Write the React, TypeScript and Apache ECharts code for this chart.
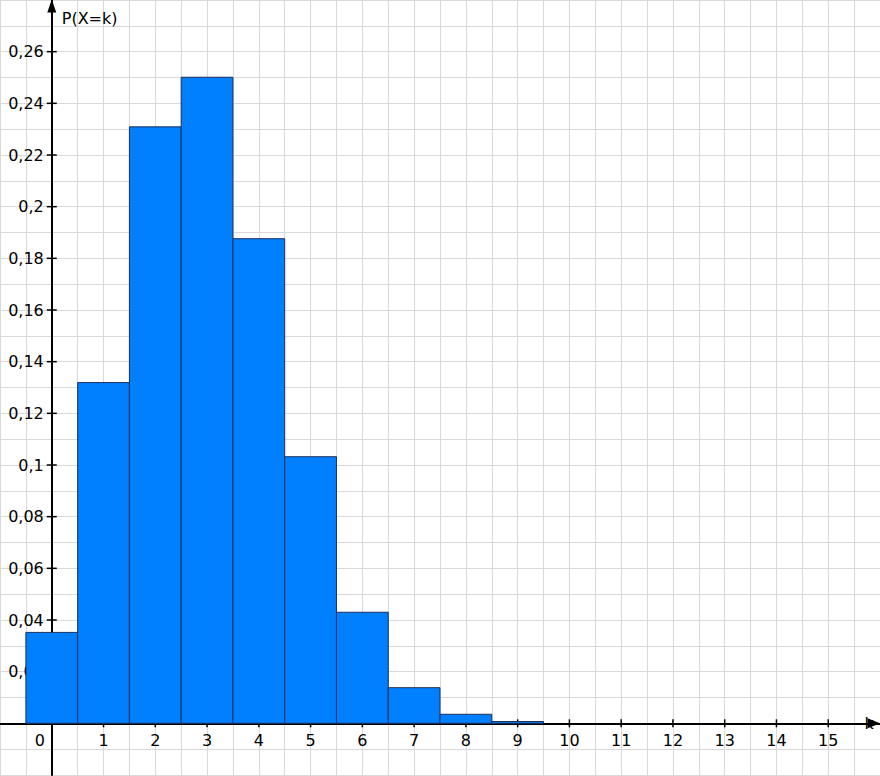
import React, { useEffect, useRef } from "react";
import * as echarts from "echarts";

const kValues = [0, 1, 2, 3, 4, 5, 6, 7, 8, 9];
const probabilities = [0.0352, 0.1319, 0.2309, 0.2501, 0.1876, 0.1032, 0.043, 0.0138, 0.0035, 0.0007];
const xTickValues = [1, 2, 3, 4, 5, 6, 7, 8, 9, 10, 11, 12, 13, 14, 15];
const xLabelValues = [0, 1, 2, 3, 4, 5, 6, 7, 8, 9, 10, 11, 12, 13, 14, 15];
const yTickValues = [0.02, 0.04, 0.06, 0.08, 0.1, 0.12, 0.14, 0.16, 0.18, 0.2, 0.22, 0.24, 0.26];
const yTickLabels = ["0,02", "0,04", "0,06", "0,08", "0,1", "0,12", "0,14", "0,16", "0,18", "0,2", "0,22", "0,24", "0,26"];
const xAxisTitle = "k";
const yAxisTitle = "P(X=k)";

const FONT = "'DejaVu Sans', Verdana, sans-serif";
const GRID_COLOR = "#d9d9d9";

export default function App() {
  const ref = useRef<HTMLDivElement>(null);

  useEffect(() => {
    document.body.style.margin = "0";
    if (!ref.current) return;
    const chart = echarts.init(ref.current, null, { renderer: "svg" });

    const option: any = {
      animation: false,
      grid: { left: 0, right: 0, top: 0, bottom: 1, containLabel: false, outerBoundsMode: "none" },
      xAxis: {
        type: "value",
        min: -1,
        max: 16,
        interval: 1,
        name: xAxisTitle,
        nameLocation: "end",
        nameGap: -11,
        nameTextStyle: {
          fontFamily: FONT,
          fontSize: 16,
          color: "#000",
          align: "center",
          verticalAlign: "middle",
          padding: [0, 0, 32, 0],
        },
        axisLine: {
          show: true,
          onZero: true,
          symbol: ["none", "triangle"],
          symbolSize: [10, 13],
          symbolOffset: [0, -6],
          lineStyle: { color: "#000", width: 2 },
        },
        axisTick: { show: false },
        minorTick: { show: false, splitNumber: 2 },
        splitLine: { show: true, lineStyle: { color: GRID_COLOR, width: 1 } },
        minorSplitLine: { show: true, lineStyle: { color: GRID_COLOR, width: 1 } },
        axisLabel: { show: false },
      },
      yAxis: {
        type: "value",
        min: -0.02,
        max: 0.28,
        interval: 0.02,
        name: yAxisTitle,
        nameLocation: "end",
        nameGap: -18,
        nameTextStyle: {
          fontFamily: FONT,
          fontSize: 16,
          color: "#000",
          align: "left",
          verticalAlign: "middle",
          padding: [0, 0, 0, 10],
        },
        axisLine: {
          show: true,
          onZero: true,
          symbol: ["none", "triangle"],
          symbolSize: [9, 13],
          symbolOffset: [0, -6],
          lineStyle: { color: "#000", width: 2 },
        },
        axisTick: { show: false },
        minorTick: { show: false, splitNumber: 2 },
        splitLine: { show: true, lineStyle: { color: GRID_COLOR, width: 1 } },
        minorSplitLine: { show: true, lineStyle: { color: GRID_COLOR, width: 1 } },
        axisLabel: { show: false },
      },
      series: [
        {
          type: "custom",
          name: "xTicks",
          z: 1,
          clip: false,
          data: xTickValues.map((k) => [k, 0]),
          renderItem: (params: any, api: any) => {
            const p = api.coord([api.value(0), api.value(1)]);
            return {
              type: "line",
              shape: { x1: p[0], y1: p[1] - 4, x2: p[0], y2: p[1] + 4 },
              style: { stroke: "#000", lineWidth: 1.5 },
            };
          },
        },
        {
          type: "custom",
          name: "yTicks",
          z: 1,
          clip: false,
          data: yTickValues.map((v) => [0, v]),
          renderItem: (params: any, api: any) => {
            const p = api.coord([api.value(0), api.value(1)]);
            return {
              type: "line",
              shape: { x1: p[0] - 5, y1: p[1], x2: p[0] + 5, y2: p[1] },
              style: { stroke: "#000", lineWidth: 1.5 },
            };
          },
        },
        {
          type: "custom",
          name: "xLabels",
          z: 1,
          clip: false,
          data: xLabelValues.map((k) => [k, 0]),
          renderItem: (params: any, api: any) => {
            const k = api.value(0);
            const p = api.coord([k, 0]);
            return {
              type: "text",
              x: p[0] + (k === 0 ? -12 : 0),
              y: p[1] + 17,
              style: {
                text: String(k),
                fill: "#000",
                fontSize: 16,
                fontFamily: FONT,
                align: "center",
                verticalAlign: "middle",
              },
            };
          },
        },
        {
          type: "custom",
          name: "yLabels",
          z: 1,
          clip: false,
          data: yTickValues.map((v, i) => [0, v, i]),
          renderItem: (params: any, api: any) => {
            const p = api.coord([0, api.value(1)]);
            return {
              type: "text",
              x: p[0] - 8,
              y: p[1],
              style: {
                text: yTickLabels[params.dataIndex],
                fill: "#000",
                fontSize: 16,
                fontFamily: FONT,
                align: "right",
                verticalAlign: "middle",
              },
            };
          },
        },
        {
          type: "custom",
          name: "P(X=k)",
          z: 3,
          clip: false,
          data: kValues.map((k, i) => [k, probabilities[i]]),
          renderItem: (params: any, api: any) => {
            const k = api.value(0);
            const v = api.value(1);
            const tl = api.coord([k - 0.5, v]);
            const br = api.coord([k + 0.5, 0]);
            return {
              type: "rect",
              shape: { x: tl[0], y: tl[1], width: br[0] - tl[0], height: br[1] - tl[1] },
              style: { fill: "#007fff", stroke: "#1d2f5c", lineWidth: 1 },
            };
          },
        },
      ],
    };

    chart.setOption(option);
    return () => chart.dispose();
  }, []);

  return <div ref={ref} style={{ width: 880, height: 776 }} />;
}
